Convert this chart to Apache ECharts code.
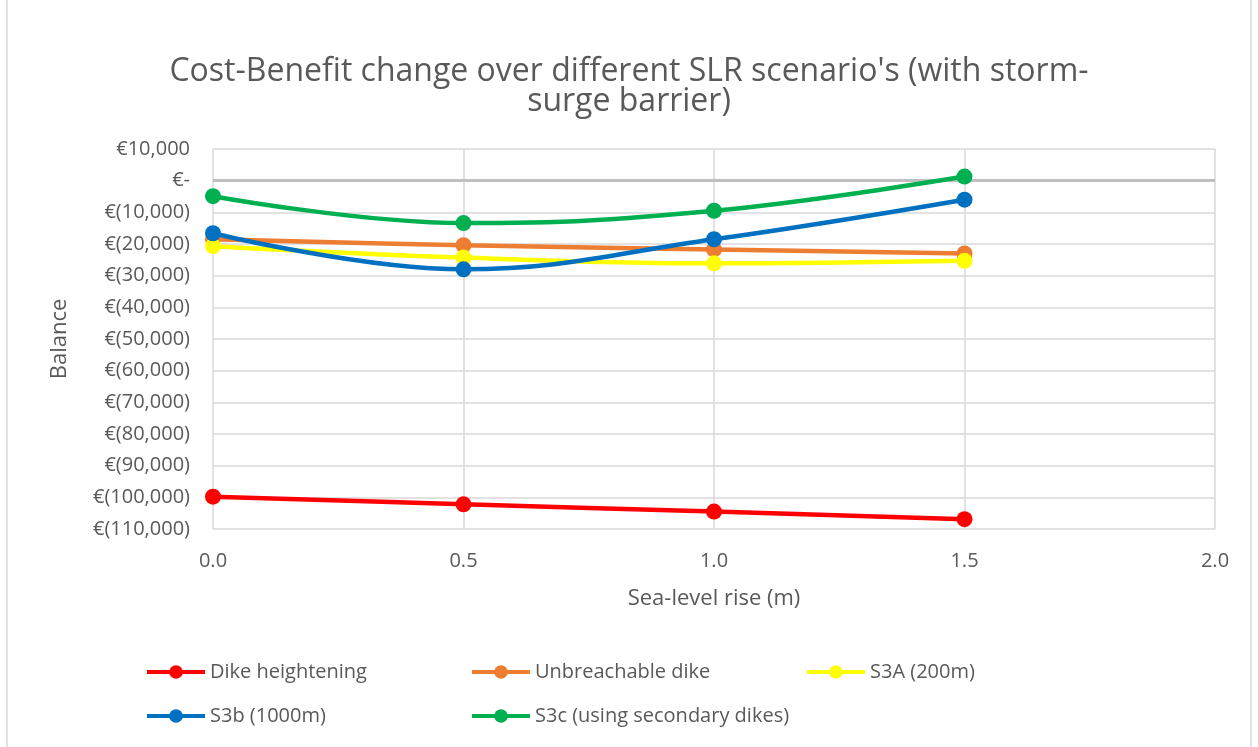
<!DOCTYPE html>
<html>
<head>
<meta charset="utf-8">
<script src="https://cdn.jsdelivr.net/npm/echarts@6/dist/echarts.min.js"></script>
<style>
  html, body { margin: 0; padding: 0; background: #fff; }
  #chart { width: 1258px; height: 747px; }
</style>
</head>
<body>
<div id="chart"></div>
<script>
// sea-level rise (m)
const slr = [0, 0.5, 1.0, 1.5]

// balance per scenario (euro)
const dikeHeightening = [-99800, -102200, -104500, -106900]
const unbreachableDike = [-18500, -20400, -21700, -23000]
const s3a200 = [-20700, -24300, -26100, -25300]
const s3b1000 = [-16600, -28000, -18500, -6000]
const s3cSecondary = [-4900, -13400, -9500, 1300]

const seriesNames = ['Dike heightening', 'Unbreachable dike', 'S3A (200m)', 'S3b (1000m)', 'S3c (using secondary dikes)']
const seriesColors = ['#FF0000', '#ED7D31', '#FFFF00', '#0070C0', '#00B050']
const seriesValues = [dikeHeightening, unbreachableDike, s3a200, s3b1000, s3cSecondary]

const TEXT_COLOR = '#595959'
const FONT = 'Open Sans'

const fmtEuro = v => {
  if (v === 0) return '€-'
  const s = Math.abs(v).toLocaleString('en-US')
  return v < 0 ? `€(${s})` : `€${s}`
}

const chart = echarts.init(document.getElementById('chart'))

// legend positions, excel lays these out in fixed columns
const legendPos = [
  { left: 140, top: 657 },
  { left: 465, top: 657 },
  { left: 800, top: 657 },
  { left: 140, top: 701 },
  { left: 465, top: 701 }
]

const series = seriesNames.map((name, i) => ({
  name,
  type: 'line',
  data: slr.map((x, j) => [x, seriesValues[i][j]]),
  smooth: 0.4,
  symbol: 'circle',
  symbolSize: 16,
  color: seriesColors[i],
  lineStyle: { width: 4.5, color: seriesColors[i] },
  itemStyle: { color: seriesColors[i] },
  z: 3 + i
}))

// zero line drawn as a markLine on the first series
series[0].markLine = {
  silent: true,
  symbol: 'none',
  label: { show: false },
  lineStyle: { color: '#BFBFBF', width: 3, type: 'solid' },
  data: [{ yAxis: 0 }],
  z: 1
}

const option = {
  animation: false,
  backgroundColor: '#fff',
  textStyle: { fontFamily: FONT },
  title: {
    text: "Cost-Benefit change over different SLR scenario's (with storm-\nsurge barrier)",
    left: 'center',
    top: 52,
    textStyle: {
      color: TEXT_COLOR,
      fontFamily: FONT,
      fontWeight: 'normal',
      fontSize: 32,
      lineHeight: 30
    }
  },
  legend: seriesNames.map((name, i) => ({
    data: [name],
    left: legendPos[i].left,
    top: legendPos[i].top,
    itemWidth: 58,
    itemHeight: 17,
    itemGap: 6,
    lineStyle: { width: 4 },
    textStyle: { color: TEXT_COLOR, fontSize: 20, fontFamily: FONT }
  })),
  grid: {
    left: 213,
    right: 43,
    top: 149,
    bottom: 218
  },
  xAxis: {
    type: 'value',
    min: 0,
    max: 2,
    interval: 0.5,
    name: 'Sea-level rise (m)',
    nameLocation: 'middle',
    nameGap: 59,
    nameTextStyle: { color: TEXT_COLOR, fontSize: 22, fontFamily: FONT },
    axisLine: { show: false },
    axisTick: { show: false },
    axisLabel: {
      color: TEXT_COLOR,
      fontSize: 20,
      margin: 22,
      formatter: v => v.toFixed(1)
    },
    splitLine: { show: true, lineStyle: { color: '#D9D9D9', width: 1.5 } }
  },
  yAxis: {
    type: 'value',
    min: -110000,
    max: 10000,
    interval: 10000,
    name: 'Balance',
    nameLocation: 'middle',
    nameGap: 142,
    nameTextStyle: { color: TEXT_COLOR, fontSize: 22, fontFamily: FONT },
    axisLine: { show: false },
    axisTick: { show: false },
    axisLabel: {
      color: TEXT_COLOR,
      fontSize: 20,
      margin: 23,
      formatter: fmtEuro
    },
    splitLine: { show: true, lineStyle: { color: '#D9D9D9', width: 1.5 } }
  },
  graphic: [
    { type: 'line', shape: { x1: 7, y1: 0, x2: 7, y2: 747 }, style: { stroke: '#D9D9D9', lineWidth: 1.5 } },
    { type: 'line', shape: { x1: 1251, y1: 0, x2: 1251, y2: 747 }, style: { stroke: '#D9D9D9', lineWidth: 1.5 } }
  ],
  series
}

chart.setOption(option)
window.addEventListener('resize', () => chart.resize())
</script>
</body>
</html>
